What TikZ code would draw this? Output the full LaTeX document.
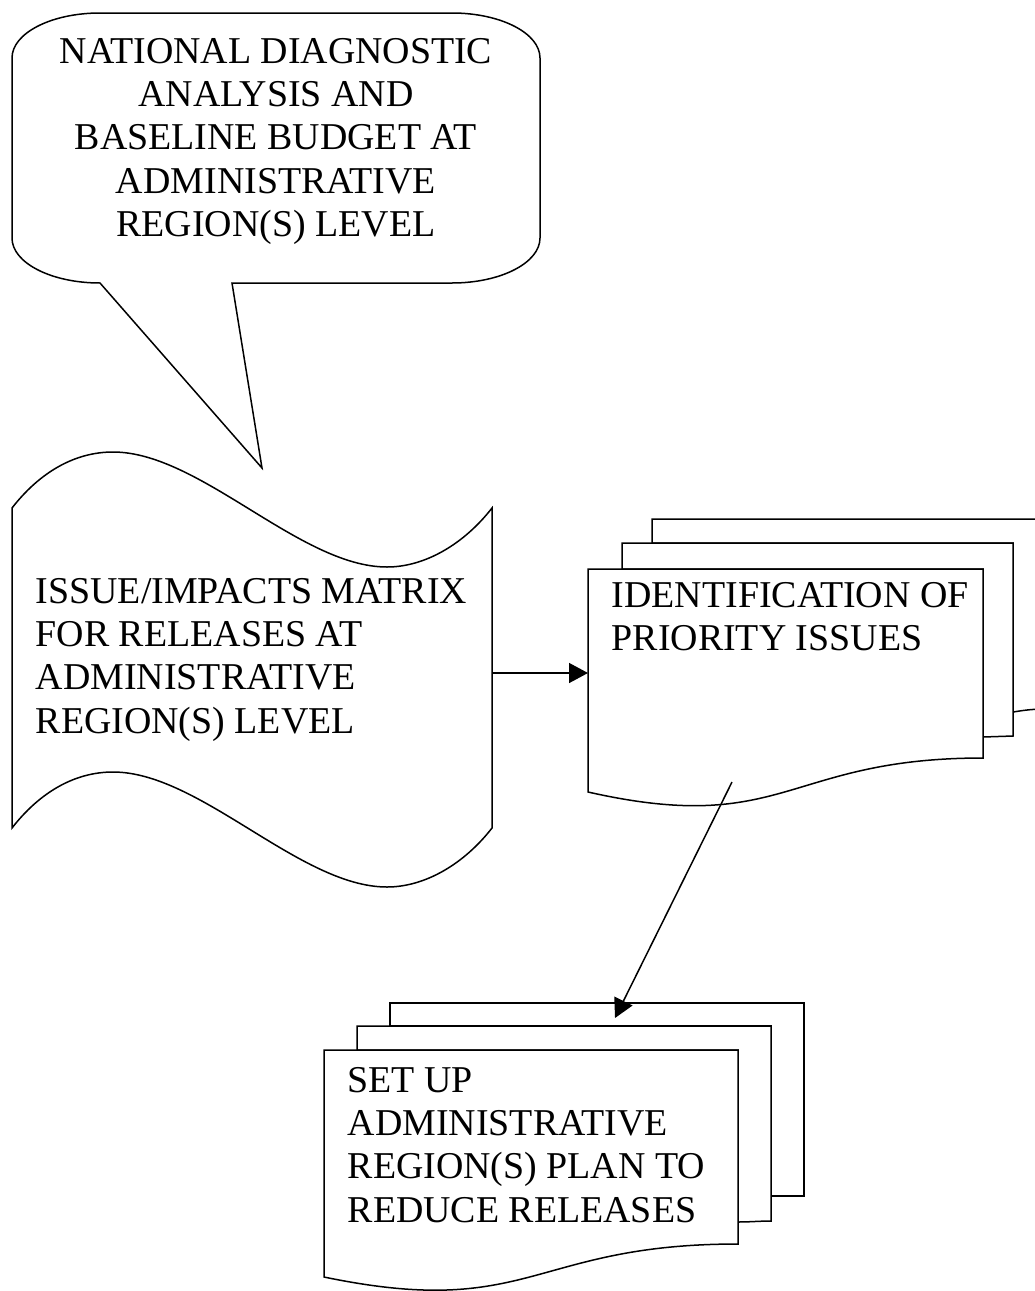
\documentclass[tikz,border=0pt]{standalone}
\usepackage{fontspec}
\setmainfont{Liberation Serif}
\usetikzlibrary{arrows.meta}
\begin{document}
\begin{tikzpicture}[x=1pt,y=-1pt,line width=1.5pt,line join=miter,
  box/.style={draw=black,fill=white},
  lbl/.style={inner sep=0pt,font=\fontsize{37.9}{43.4}\selectfont},
  conn/.style={draw=black,-{Triangle[length=19pt,width=20pt]}}]
\useasboundingbox (0,0) rectangle (1035,1291);
\clip (0,0) rectangle (1035,1291);

% callout
\path[box] (100,283) .. controls (51.4,283) and (12,262.9) .. (12,238)
  -- (12,58) .. controls (12,33.1) and (51.4,13) .. (100,13)
  -- (452,13) .. controls (500.6,13) and (540,33.1) .. (540,58)
  -- (540,238) .. controls (540,262.9) and (500.6,283) .. (452,283)
  -- (232,283) -- (262,468) -- cycle;
\node[lbl,anchor=base] (callout) at (276,63) {\begin{tabular}[t]{@{}c@{}}NATIONAL DIAGNOSTIC\\ ANALYSIS AND\\ BASELINE BUDGET AT\\ ADMINISTRATIVE\\ REGION(S) LEVEL\end{tabular}};

% punched tape
\path[box] (12,508) .. controls (40,472) and (75,452) .. (113,452)
  .. controls (200,452) and (300,567) .. (387,567)
  .. controls (425,567) and (464,544) .. (492,508)
  -- (492,828) .. controls (464,864) and (425,887) .. (387,887)
  .. controls (300,887) and (200,772) .. (113,772)
  .. controls (75,772) and (40,792) .. (12,828) -- cycle;
\node[lbl,anchor=base west] (tape) at (35,603) {\begin{tabular}[t]{@{}l@{}}ISSUE/IMPACTS MATRIX\\ FOR RELEASES AT\\ ADMINISTRATIVE\\ REGION(S) LEVEL\end{tabular}};

% multidocument 1
\path[box] (652,543) -- (652,519) -- (1045,519) -- (1045,709)
  .. controls (1030,709) and (1020,711) .. (1013,712) -- (1013,543) -- cycle;
\path[box] (622,569) -- (622,543) -- (1013,543) -- (1013,736) -- (983,737) -- (983,569) -- cycle;
\path[box] (588,569) -- (983,569) -- (983,758)
  .. controls (785.5,758) and (785.5,836.6) .. (588,792) -- cycle;
\node[lbl,anchor=base west] (doc1) at (611,607) {\begin{tabular}[t]{@{}l@{}}IDENTIFICATION OF\\ PRIORITY ISSUES\end{tabular}};

\coordinate (tapeR) at (493,673);
\coordinate (doc1L) at (588,673);
\draw[conn] (tapeR) -- (doc1L);

% multidocument 2
\path[box] (390,1026) -- (390,1003) -- (804,1003) -- (804,1196) -- (771,1196) -- (771,1026) -- cycle;
\path[box] (357,1050) -- (357,1026) -- (771,1026) -- (771,1221)
  .. controls (760,1221) and (750,1222) .. (738,1222) -- (738,1050) -- cycle;
\path[box] (324,1050) -- (738,1050) -- (738,1244)
  .. controls (531,1244) and (531,1320) .. (324,1277) -- cycle;
\node[lbl,anchor=base west] (doc2) at (347,1092) {\begin{tabular}[t]{@{}l@{}}SET UP\\ ADMINISTRATIVE\\ REGION(S) PLAN TO\\ REDUCE RELEASES\end{tabular}};

\coordinate (doc1src) at (732,782);
\coordinate (doc2dst) at (615,1018);
\draw[conn] (doc1src) -- (doc2dst);
\end{tikzpicture}
\end{document}
